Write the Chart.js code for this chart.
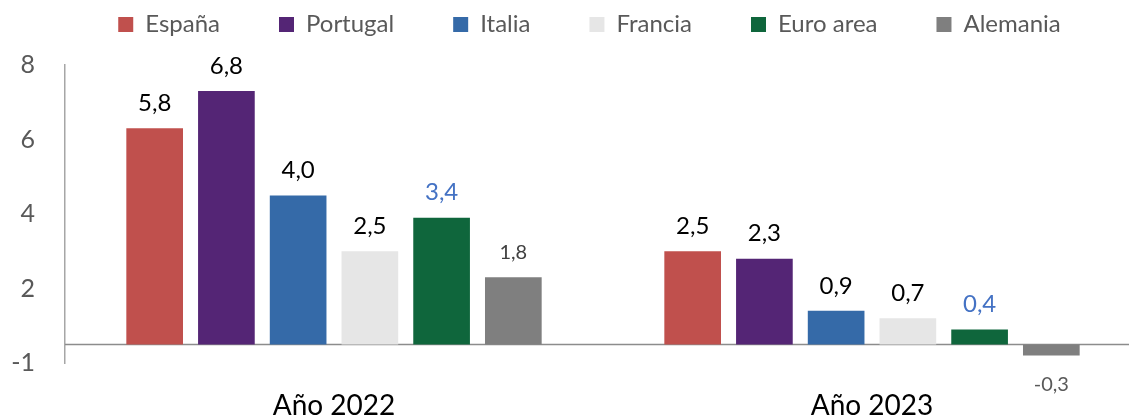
<!DOCTYPE html>
<html lang="es">
<head>
    <meta charset="UTF-8">
    <title>España, Portugal, Italia, Francia, Euro area, Alemania</title>
    <script src="https://cdn.jsdelivr.net/npm/chart.js"></script>
    <style>
        html, body {
            margin: 0;
            padding: 0;
            background: #ffffff;
            overflow: hidden;
        }
        .chart-container {
            width: 1141px;
            height: 419px;
            position: relative;
        }
    </style>
</head>
<body>
    <div class="chart-container">
        <canvas id="growthChart"></canvas>
    </div>

    <script>
        // data
        const categories = ['Año 2022', 'Año 2023'];
        const espana = [5.8, 2.5];
        const portugal = [6.8, 2.3];
        const italia = [4.0, 0.9];
        const francia = [2.5, 0.7];
        const euroArea = [3.4, 0.4];
        const alemania = [1.8, -0.3];

        // the original axis puts its labels half a unit off the gridline values
        const yTickValues = [-0.5, 1.5, 3.5, 5.5, 7.5];
        const yTickLabels = ['-1', '2', '4', '6', '8'];

        const FONT = 'Lato, "Open Sans", sans-serif';

        function fmt(v) {
            return v.toFixed(1).replace('.', ',');
        }

        // legend needs wide horizontal gaps but a short box
        const legendSpacing = {
            id: 'legendSpacing',
            beforeLayout(chart) {
                const legend = chart.legend;
                if (legend && !legend._patched) {
                    const origFit = legend.fit;
                    legend.fit = function () {
                        origFit.call(this);
                        this.height = 65;
                    };
                    legend._patched = true;
                }
            },
            afterLayout(chart) {
                const legend = chart.legend;
                legend.top = 12.5 - legend.options.labels.padding;
                // legend sits a bit right of centre in the original
                legend.left += 19;
                legend.right += 19;
            }
        };

        // zero line across the plot
        const zeroLine = {
            id: 'zeroLine',
            beforeDatasetsDraw(chart) {
                const ctx = chart.ctx;
                const y = Math.round(chart.scales.y.getPixelForValue(0)) + 0.5;
                ctx.save();
                ctx.strokeStyle = '#8C8C8C';
                ctx.lineWidth = 1.5;
                ctx.beginPath();
                ctx.moveTo(chart.chartArea.left, y);
                ctx.lineTo(chart.width, y);
                ctx.stroke();
                ctx.restore();
            }
        };

        // value labels above (or below) each bar
        const valueLabels = {
            id: 'valueLabels',
            afterDatasetsDraw(chart) {
                const ctx = chart.ctx;
                ctx.save();
                ctx.textAlign = 'center';
                ctx.textBaseline = 'middle';
                chart.data.datasets.forEach((ds, i) => {
                    const meta = chart.getDatasetMeta(i);
                    meta.data.forEach((bar, j) => {
                        const v = ds.data[j];
                        ctx.font = (v < 0 ? ds.negLabelSize : ds.labelSize) + 'px ' + FONT;
                        ctx.fillStyle = v < 0 ? '#595959' : ds.labelColor;
                        const y = v >= 0 ? bar.y - 25 : bar.y + 29;
                        ctx.fillText(fmt(v), bar.x, y);
                    });
                });
                ctx.restore();
            }
        };

        function makeSet(label, data, color, labelColor, labelSize) {
            return {
                label: label,
                data: data,
                backgroundColor: color,
                borderWidth: 0,
                labelColor: labelColor,
                labelSize: labelSize || 24,
                negLabelSize: 20
            };
        }

        const ctx = document.getElementById('growthChart').getContext('2d');
        new Chart(ctx, {
            type: 'bar',
            data: {
                labels: categories,
                datasets: [
                    makeSet('España', espana, '#C0504D', '#000000'),
                    makeSet('Portugal', portugal, '#542575', '#000000'),
                    makeSet('Italia', italia, '#356AA8', '#000000'),
                    makeSet('Francia', francia, '#E6E6E6', '#000000'),
                    makeSet('Euro area', euroArea, '#0F663C', '#4472C4'),
                    makeSet('Alemania', alemania, '#7F7F7F', '#404040', 20)
                ]
            },
            options: {
                responsive: true,
                maintainAspectRatio: false,
                animation: false,
                layout: { padding: 0 },
                datasets: {
                    bar: {
                        categoryPercentage: 0.8,
                        barPercentage: 0.79
                    }
                },
                plugins: {
                    tooltip: { enabled: false },
                    legend: {
                        position: 'top',
                        labels: {
                            boxWidth: 15,
                            boxHeight: 15,
                            padding: 59,
                            color: '#595959',
                            font: { family: FONT, size: 24 }
                        }
                    }
                },
                scales: {
                    x: {
                        grid: { display: false, drawTicks: false },
                        border: { display: false },
                        ticks: {
                            color: '#000000',
                            padding: 26,
                            font: { family: FONT, size: 28 }
                        },
                        afterFit(scale) {
                            scale.height = 56;
                        }
                    },
                    y: {
                        min: -0.5,
                        max: 7.5,
                        grid: { display: false, drawTicks: false },
                        border: { display: true, color: '#A6A6A6', width: 1.5 },
                        afterBuildTicks(scale) {
                            scale.ticks = yTickValues.map(v => ({ value: v }));
                        },
                        ticks: {
                            color: '#595959',
                            padding: 30,
                            font: { family: FONT, size: 25 },
                            callback: function (value, index) {
                                return yTickLabels[index];
                            }
                        },
                        afterFit(scale) {
                            scale.width = 65;
                        }
                    }
                }
            },
            plugins: [legendSpacing, zeroLine, valueLabels]
        });
    </script>
</body>
</html>
